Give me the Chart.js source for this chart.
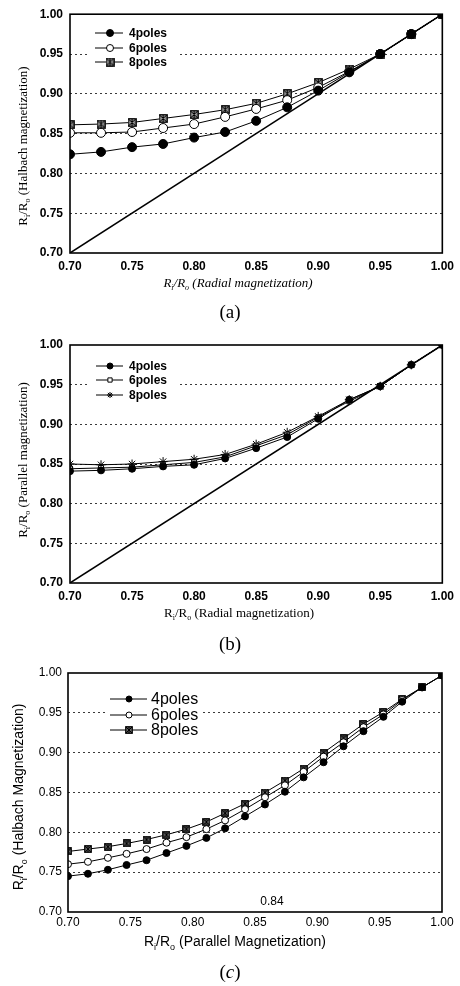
<!DOCTYPE html>
<html><head><meta charset="utf-8">
<script src="https://cdn.jsdelivr.net/npm/chart.js@4/dist/chart.umd.min.js"></script>
<style>
html,body{margin:0;padding:0;background:#fff}
body{width:460px;height:986px;position:relative;overflow:hidden}
canvas{position:absolute;left:0}
.cap{position:absolute;left:0;width:460px;text-align:center;font-family:"Liberation Serif",serif;font-size:19px;color:#000;line-height:20px}
</style></head>
<body>
<canvas id="ca" width="460" height="325" style="top:0"></canvas>
<canvas id="cb" width="460" height="330" style="top:325px"></canvas>
<canvas id="cc" width="460" height="331" style="top:655px"></canvas>
<div class="cap" style="top:302px">(a)</div>
<div class="cap" style="top:634px">(b)</div>
<div class="cap" style="top:962px">(<i>c</i>)</div>
<script>
// ---------- DATA ----------
const seriesNames = ['4poles', '6poles', '8poles'];
const tickLabels = ['0.70', '0.75', '0.80', '0.85', '0.90', '0.95', '1.00'];

// (a) Halbach vs Radial
const xA = [0.700, 0.725, 0.750, 0.775, 0.800, 0.825, 0.850, 0.875, 0.900, 0.925, 0.950, 0.975, 1.000];
const a4 = [0.824, 0.827, 0.833, 0.837, 0.845, 0.852, 0.866, 0.883, 0.904, 0.927, 0.950, 0.975, 1.000];
const a6 = [0.851, 0.851, 0.852, 0.857, 0.862, 0.871, 0.881, 0.892, 0.908, 0.928, 0.950, 0.975, 1.000];
const a8 = [0.861, 0.862, 0.864, 0.869, 0.874, 0.880, 0.888, 0.900, 0.914, 0.931, 0.950, 0.975, 1.000];

// (b) Parallel vs Radial
const xB = [0.700, 0.725, 0.750, 0.775, 0.800, 0.825, 0.850, 0.875, 0.900, 0.925, 0.950, 0.975, 1.000];
const b4 = [0.841, 0.842, 0.844, 0.847, 0.849, 0.857, 0.870, 0.884, 0.907, 0.931, 0.948, 0.975, 1.000];
const b6 = [0.844, 0.845, 0.846, 0.849, 0.852, 0.859, 0.873, 0.887, 0.909, 0.929, 0.948, 0.975, 1.000];
const b8 = [0.850, 0.849, 0.850, 0.853, 0.856, 0.862, 0.875, 0.890, 0.910, 0.931, 0.948, 0.975, 1.000];

// reference diagonal in (a) and (b)
const diagX = [0.70, 1.00];
const diagY = [0.70, 1.00];

// (c) Halbach vs Parallel
const xC = [0.700, 0.716, 0.732, 0.747, 0.763, 0.779, 0.795, 0.811, 0.826, 0.842, 0.858, 0.874, 0.889, 0.905, 0.921, 0.937, 0.953, 0.968, 0.984, 1.000];
const c4 = [0.745, 0.748, 0.753, 0.759, 0.765, 0.774, 0.783, 0.793, 0.805, 0.820, 0.835, 0.851, 0.869, 0.888, 0.908, 0.927, 0.945, 0.964, 0.982, 0.997];
const c6 = [0.760, 0.763, 0.768, 0.773, 0.779, 0.787, 0.794, 0.804, 0.815, 0.829, 0.844, 0.859, 0.876, 0.895, 0.913, 0.932, 0.948, 0.966, 0.982, 0.997];
const c8 = [0.776, 0.779, 0.782, 0.786, 0.791, 0.797, 0.804, 0.813, 0.824, 0.836, 0.850, 0.865, 0.880, 0.900, 0.918, 0.936, 0.951, 0.967, 0.982, 0.997];
const cNote = '0.84';

// ---------- HELPERS ----------
const pts = (xs, ys) => xs.map((x, i) => ({x, y: ys[i]}));

function makeBoxX(size, fill) {
  const c = document.createElement('canvas');
  c.width = size; c.height = size;
  const g = c.getContext('2d');
  g.fillStyle = fill; g.fillRect(0.5, 0.5, size - 1, size - 1);
  g.strokeStyle = '#000'; g.lineWidth = 1.2;
  g.strokeRect(0.75, 0.75, size - 1.5, size - 1.5);
  g.lineWidth = 1; g.beginPath();
  g.moveTo(1, 1); g.lineTo(size - 1, size - 1);
  g.moveTo(size - 1, 1); g.lineTo(1, size - 1);
  g.moveTo(size / 2, 1); g.lineTo(size / 2, size - 1);
  g.stroke();
  return c;
}

function richText(ctx, parts, cx, cy, size, family, style, rot) {
  ctx.save();
  ctx.translate(cx, cy);
  if (rot) ctx.rotate(rot);
  const mf = sub => `${style} ${sub ? Math.round(size * 0.62) : size}px ${family}`;
  let w = 0;
  for (const [t, sub] of parts) { ctx.font = mf(sub); w += ctx.measureText(t).width; }
  let x = -w / 2;
  ctx.textBaseline = 'alphabetic';
  ctx.textAlign = 'left';
  ctx.fillStyle = '#000';
  const base = size * 0.35;
  for (const [t, sub] of parts) {
    ctx.font = mf(sub);
    ctx.fillText(t, x, base + (sub ? size * 0.3 : 0));
    x += ctx.measureText(t).width;
  }
  ctx.restore();
}

const decorPlugin = {
  id: 'decor',
  afterDatasetsDraw(chart) {
    const o = chart.options.plugins.decor;
    const ctx = chart.ctx;
    const a = chart.chartArea;
    // legend
    const L = o.legend;
    ctx.save();
    if (L.bg) { ctx.fillStyle = '#fff'; ctx.fillRect(L.bg[0], L.bg[1], L.bg[2], L.bg[3]); }
    chart.data.datasets.forEach((ds, i) => {
      if (!ds.label) return;
      const y = L.rows[i];
      ctx.strokeStyle = '#000'; ctx.lineWidth = 1;
      ctx.beginPath(); ctx.moveTo(L.x0, y); ctx.lineTo(L.x1, y); ctx.stroke();
      ctx.fillStyle = ds.pointBackgroundColor; ctx.strokeStyle = '#000';
      ctx.lineWidth = ds.pointBorderWidth || 1;
      Chart.helpers.drawPoint(ctx, {pointStyle: ds.pointStyle, radius: L.r, borderWidth: ds.pointBorderWidth || 1, rotation: 0}, L.mx, y);
      ctx.fillStyle = '#000';
      ctx.font = L.font; ctx.textAlign = 'left'; ctx.textBaseline = 'middle';
      ctx.fillText(ds.label, L.tx, y + 0.5);
    });
    // frame
    ctx.strokeStyle = '#000'; ctx.lineWidth = 1.6;
    ctx.strokeRect(a.left, a.top, a.right - a.left, a.bottom - a.top);
    // axis titles
    const T = o.titles;
    richText(ctx, T.x.parts, T.x.cx, T.x.cy, T.size, T.family, T.x.style, 0);
    richText(ctx, T.y.parts, T.y.cx, T.y.cy, T.size, T.family, T.y.style, -Math.PI / 2);
    if (o.note) {
      ctx.fillStyle = '#000'; ctx.font = o.note.font; ctx.textAlign = 'center'; ctx.textBaseline = 'middle';
      ctx.fillText(o.note.text, o.note.x, o.note.y);
    }
    ctx.restore();
  }
};

function buildChart(id, P) {
  const H = P.H;
  const gridColor = c => (c.index === 0 || c.index === tickLabels.length - 1) ? 'rgba(0,0,0,0)' : '#3a3a3a';
  return new Chart(document.getElementById(id), {
    type: 'line',
    data: {datasets: P.datasets},
    options: {
      responsive: false, animation: false, devicePixelRatio: 1,
      layout: {padding: {top: P.top, right: 460 - P.right, left: 0, bottom: 0}},
      elements: {line: {tension: 0}},
      plugins: {legend: {display: false}, tooltip: {enabled: false}, decor: P.decor},
      scales: {
        x: {
          type: 'linear', min: 0.7, max: 1.0,
          ticks: {stepSize: 0.05, color: '#000', padding: P.xPad, font: P.tickFont, maxRotation: 0,
                  callback: (v, i) => tickLabels[i]},
          grid: {display: false, drawTicks: false},
          border: {display: false},
          afterFit: s => { s.height = H - P.bottom; }
        },
        y: {
          type: 'linear', min: 0.7, max: 1.0,
          ticks: {stepSize: 0.05, color: '#000', padding: P.yPad, font: P.tickFont,
                  callback: (v, i) => tickLabels[i]},
          grid: {display: true, drawTicks: false, color: gridColor, lineWidth: 1},
          border: {display: false, dash: [2, 3]},
          afterFit: s => { s.width = P.left; }
        }
      }
    },
    plugins: [decorPlugin]
  });
}

const serif = '"Liberation Serif", "Times New Roman", serif';
const sans = '"Liberation Sans", Arial, sans-serif';
const ser = (xs, ys, label, style, r, bg, extra) => Object.assign({
  label, data: pts(xs, ys), borderColor: '#000', borderWidth: 1, showLine: true,
  pointStyle: style, pointRadius: r, pointBackgroundColor: bg, pointBorderColor: '#000', pointBorderWidth: 1
}, extra || {});
const diag = () => ({label: '', data: pts(diagX, diagY), borderColor: '#000', borderWidth: 1.5, pointRadius: 0, showLine: true});

const boxA = makeBoxX(9, '#9a9a9a');
const boxC = makeBoxX(8, '#666');

// (a)
buildChart('ca', {
  H: 325, top: 13, bottom: 253, left: 70, right: 443, xPad: 6, yPad: 7,
  tickFont: {family: sans, size: 12, weight: 'bold'},
  datasets: [
    ser(xA, a4, seriesNames[0], 'circle', 4.5, '#000'),
    ser(xA, a6, seriesNames[1], 'circle', 4.5, '#fff'),
    ser(xA, a8, seriesNames[2], boxA, 4.5, '#9a9a9a'),
    diag()
  ],
  decor: {
    legend: {x0: 95, x1: 123, mx: 110, tx: 129, rows: [33, 48, 62], r: 3.5, font: 'bold 12px ' + sans, bg: [88, 25, 89, 46]},
    titles: {size: 13, family: serif,
      x: {cx: 238, cy: 282, style: 'italic', parts: [['R', 0], ['i', 1], ['/R', 0], ['o', 1], [' (Radial magnetization)', 0]]},
      y: {cx: 22, cy: 146, style: 'normal', parts: [['R', 0], ['i', 1], ['/R', 0], ['o', 1], [' (Halbach magnetization)', 0]]}}
  }
});

// (b)
buildChart('cb', {
  H: 330, top: 20, bottom: 258, left: 70, right: 443, xPad: 6, yPad: 7,
  tickFont: {family: sans, size: 12, weight: 'bold'},
  datasets: [
    ser(xB, b4, seriesNames[0], 'circle', 3.5, '#000'),
    ser(xB, b6, seriesNames[1], 'rect', 3.5, '#fff'),
    ser(xB, b8, seriesNames[2], 'star', 4.5, '#000'),
    diag()
  ],
  decor: {
    legend: {x0: 96, x1: 123, mx: 110, tx: 129, rows: [41, 55, 70], r: 3, font: 'bold 12px ' + sans, bg: [88, 33, 89, 46]},
    titles: {size: 13, family: serif,
      x: {cx: 239, cy: 287, style: 'normal', parts: [['R', 0], ['i', 1], ['/R', 0], ['o', 1], [' (Radial magnetization)', 0]]},
      y: {cx: 22, cy: 135, style: 'normal', parts: [['R', 0], ['i', 1], ['/R', 0], ['o', 1], [' (Parallel magnetization)', 0]]}}
  }
});

// (c)
buildChart('cc', {
  H: 331, top: 18, bottom: 257, left: 68, right: 442, xPad: 3, yPad: 6,
  tickFont: {family: sans, size: 12, weight: 'normal'},
  datasets: [
    ser(xC, c4, seriesNames[0], 'circle', 3.5, '#000'),
    ser(xC, c6, seriesNames[1], 'circle', 3.5, '#fff'),
    ser(xC, c8, seriesNames[2], boxC, 4, '#666')
  ],
  decor: {
    legend: {x0: 110, x1: 147, mx: 129, tx: 151, rows: [44, 60, 75], r: 3, font: '16px ' + sans, bg: [107, 35, 94, 48]},
    titles: {size: 14, family: sans,
      x: {cx: 235, cy: 286, style: 'normal', parts: [['R', 0], ['i', 1], ['/R', 0], ['o', 1], [' (Parallel Magnetization)', 0]]},
      y: {cx: 18, cy: 142, style: 'normal', parts: [['R', 0], ['i', 1], ['/R', 0], ['o', 1], [' (Halbach Magnetization)', 0]]}},
    note: {text: cNote, x: 272, y: 247, font: '12px ' + sans}
  }
});
</script>
</body></html>
